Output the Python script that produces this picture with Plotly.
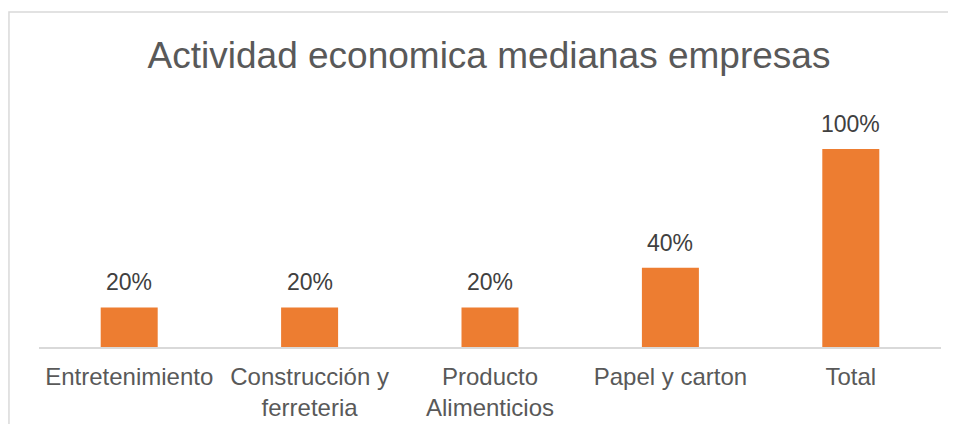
import plotly.graph_objects as go

categories = ["Entretenimiento", "Construcción y<br>ferreteria", "Producto<br>Alimenticios",
              "Papel y carton", "Total"]
values = [0.20, 0.20, 0.20, 0.40, 1.00]
labels = ["20%", "20%", "20%", "40%", "100%"]

font_family = "Liberation Sans, Arial, sans-serif"

fig = go.Figure(go.Bar(
    x=categories,
    y=values,
    marker=dict(color='#ED7D31', line=dict(width=0)),
    hoverinfo='skip',
))

# value labels above the bars
for cat, val, lab in zip(categories, values, labels):
    fig.add_annotation(x=cat, y=val, text=lab, showarrow=False,
                       xanchor='center', yanchor='bottom', yshift=10,
                       font=dict(size=23, color='#404040', family=font_family))

# page has an 8px body margin, so the figure is a bit smaller than the window
fig.update_layout(
    width=948, height=416,
    margin=dict(l=31, r=15, t=92, b=77),
    paper_bgcolor='white', plot_bgcolor='white',
    bargap=0.684,
    showlegend=False,
    title=dict(text="Actividad economica medianas empresas", x=0.5074, y=0.887,
               xanchor='center', yanchor='middle',
               font=dict(size=37, color='#595959', family=font_family)),
    xaxis=dict(showline=True, linecolor='#d9d9d9', linewidth=1.5, showgrid=False,
               ticks='', ticklabelstandoff=7, automargin=False,
               tickfont=dict(size=24, color='#595959', family=font_family)),
    yaxis=dict(visible=False, range=[0, 1.247], showgrid=False, zeroline=False),
    shapes=[dict(type='rect', xref='paper', yref='paper',
                 x0=-0.0333, x1=1.05, y0=-0.5, y1=1.356,
                 line=dict(color='#d9d9d9', width=1.5), layer='below')],
)

fig.write_html("out.html")
